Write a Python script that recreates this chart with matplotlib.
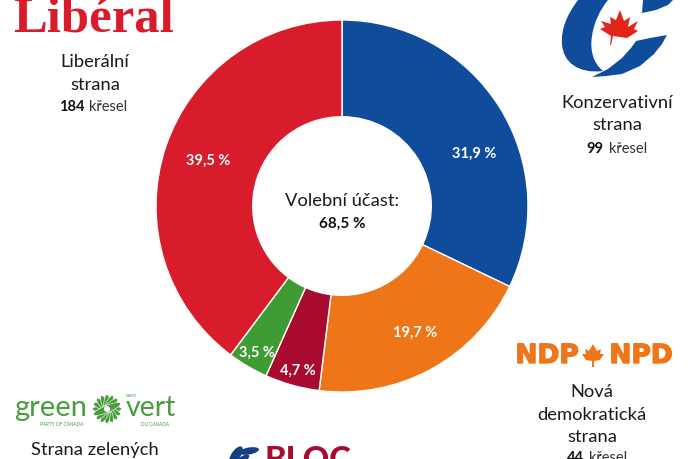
import numpy as np
import matplotlib
matplotlib.use("Agg")
import matplotlib.pyplot as plt
import matplotlib.patheffects as pe
from matplotlib.patches import PathPatch, Polygon, Ellipse, Circle
from matplotlib.path import Path

parties = ["Konzervativní strana", "Nová demokratická strana", "Blok", "Strana zelených", "Liberální strana"]
shares = [31.9, 19.7, 4.7, 3.5, 39.5]
share_labels = ["31,9 %", "19,7 %", "4,7 %", "3,5 %", "39,5 %"]
colors = ["#0f4c9c", "#ee7518", "#a80a30", "#3f9c35", "#d91c2c"]

W, H = 688, 459
fig = plt.figure(figsize=(W / 100, H / 100), dpi=100, facecolor="white")
plt.rcParams["font.family"] = ["Lato", "DejaVu Sans"]

cx, cy, R = 342, 206, 186
ax = fig.add_axes([(cx - R) / W, 1 - (cy + R) / H, 2 * R / W, 2 * R / H])
wedges, _ = ax.pie(shares, colors=colors, startangle=90, counterclock=False, radius=1,
                   wedgeprops=dict(width=0.52, edgecolor="white", linewidth=1.0))
ax.set_xlim(-1, 1); ax.set_ylim(-1, 1)
ax.set_aspect("equal")

ov = fig.add_axes([0, 0, 1, 1], zorder=5)
ov.set_xlim(0, W); ov.set_ylim(H, 0); ov.axis("off")

# share labels
for (x, y), s in zip([(474, 154), (415, 333), (298, 371), (257, 353), (208, 161)], share_labels):
    ov.text(x, y, s, color="white", fontsize=10.5, fontweight="bold", ha="center", va="center")

DARK = "#1a1a1a"
ov.text(342, 201, "Volební účast:", color=DARK, fontsize=13.2, ha="center", va="center")
ov.text(342, 224, "68,5 %", color="#111", fontsize=11, fontweight="bold", ha="center", va="center")

def lines(x, y, items, step=22.5, fs=13.2):
    for i, l in enumerate(items):
        ov.text(x, y + i * step, l, color=DARK, fontsize=fs, ha="center", va="center")

def seats(x, y, n):
    ov.text(x - 2.5, y, n, color="#111", fontsize=10.5, fontweight="bold", ha="right", va="center")
    ov.text(x + 2.5, y, "křesel", color="#333", fontsize=10.5, ha="left", va="center")

# Liberal
ov.text(94, 20, "Libéral", color="#d91c2c", family="Liberation Serif", fontweight="bold",
        fontsize=36.5, ha="center", va="center")
lines(95, 62, ["Liberální", "strana"])
seats(87, 107, "184")

# Conservative logo
blue = "#0f4c9c"
M, L, C, Z = Path.MOVETO, Path.LINETO, Path.CURVE4, Path.CLOSEPOLY
left = Path([(578, 0), (566, 16), (561, 30), (562, 44), (563, 62), (578, 74), (603, 71),
             (592, 62), (590, 48), (592, 36), (594, 22), (600, 10), (608, 0), (578, 0)],
            [M, C, C, C, C, C, C, C, C, C, C, C, C, Z])
ov.add_patch(PathPatch(left, fc=blue, ec="none"))
ov.add_patch(Polygon([(592, 77), (606, 76), (622, 74), (640, 66), (654, 54), (662, 44), (667, 35), (650, 38),
                      (636, 41), (631, 48), (622, 58), (608, 69)], fc=blue, ec="none"))
ov.add_patch(Polygon([(643, 0), (673, 0), (668, 5), (656, 10), (642, 13)], fc=blue, ec="none"))
ov.add_patch(Polygon([(620, 10), (624, 21), (630, 17), (628, 27), (638, 21), (634, 29), (638, 31), (627, 38),
                      (613, 36), (611, 45), (610, 45), (611, 36), (600, 29), (605, 27), (601, 21), (611, 24), (610, 17), (616, 20)],
                     fc="#e1251b", ec="none"))
lines(617, 103, ["Konzervativní", "strana"])
seats(606, 149, "99")

# NDP
orange = "#ee7518"
heavy = [pe.withStroke(linewidth=1.0, foreground=orange)]
ov.text(547, 356, "NDP", color=orange, family="DejaVu Sans", fontsize=19, fontweight="bold",
        ha="center", va="center", path_effects=heavy)
ov.text(641, 356, "NPD", color=orange, family="DejaVu Sans", fontsize=19, fontweight="bold",
        ha="center", va="center", path_effects=heavy)
ov.add_patch(Polygon([(593, 344), (597, 351), (601, 349), (600, 354), (604, 354), (600, 360), (594, 361), (594, 367),
                      (592, 367), (592, 361), (586, 360), (582, 354), (586, 354), (585, 349), (589, 351)],
                     fc=orange, ec="none"))
lines(592, 392, ["Nová", "demokratická", "strana"])
seats(586, 458, "44")

# Green
g = "#4a9d3f"
ov.text(51, 408, "green", color=g, fontsize=21, ha="center", va="center")
ov.text(151, 408, "vert", color=g, fontsize=20.5, ha="center", va="center")
ov.text(62, 424, "PARTY OF CANADA", color=g, fontsize=3.4, ha="center", va="center")
ov.text(155, 424, "DU CANADA", color=g, fontsize=3.4, ha="center", va="center")
ov.text(131, 396, "PARTI", color=g, fontsize=3, ha="center", va="center")
for a in np.arange(0, 180, 22.5):
    ov.add_patch(Ellipse((107, 409), 29, 7, angle=a, fc=g, ec="white", lw=0.4))
ov.add_patch(Circle((107, 409), 3, fc="white", ec="none"))
ov.text(95, 450, "Strana zelených", color=DARK, fontsize=13.2, ha="center", va="center")

# Bloc
ov.text(308, 460, "BLOC", color="#a80a30", fontsize=23.5, fontweight="black", ha="center", va="center", clip_on=True)
navy = "#15407f"
ov.add_patch(Ellipse((236, 455), 20, 9, angle=-55, fc=navy, ec="none"))
ov.add_patch(Ellipse((249, 451), 20, 7, angle=-10, fc=navy, ec="none"))
ov.add_patch(Ellipse((243, 459), 14, 6, angle=-30, fc=navy, ec="none"))

fig.savefig("out.png", dpi=100)
